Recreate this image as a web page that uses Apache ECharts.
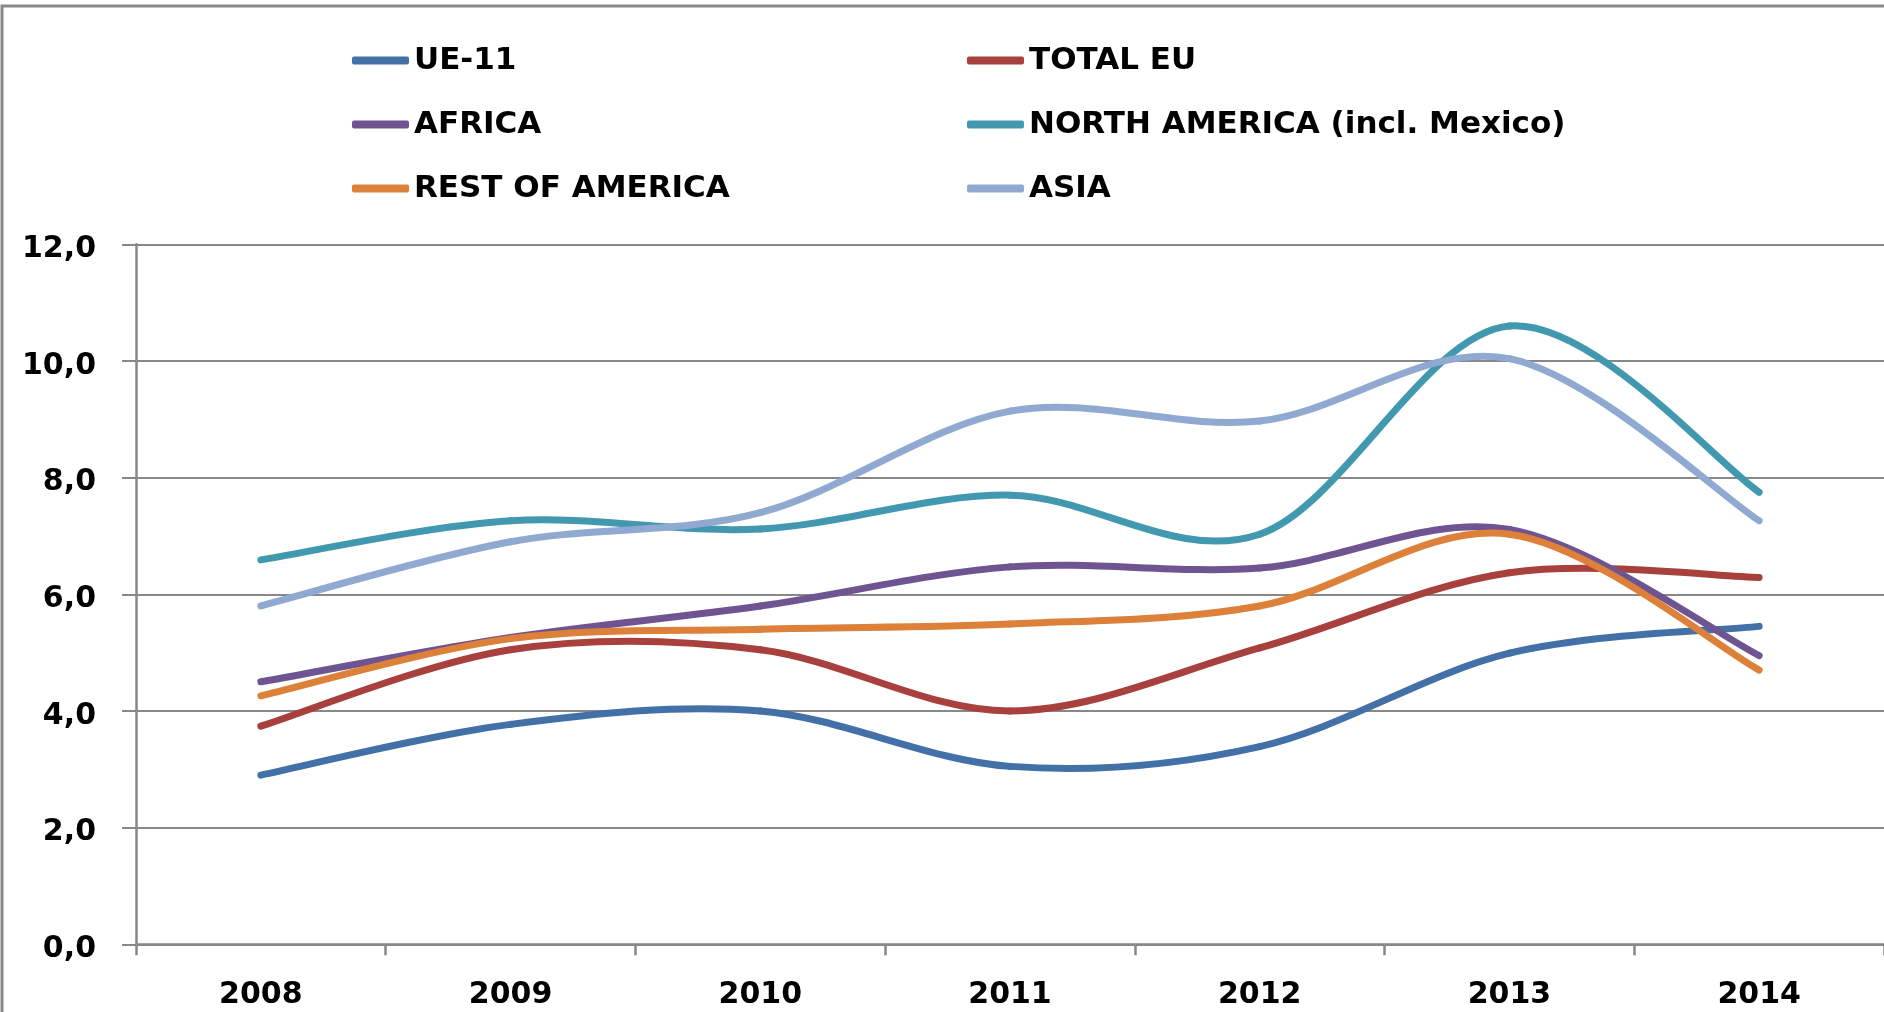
<!DOCTYPE html>
<html>
<head>
<meta charset="utf-8">
<script src="https://cdn.jsdelivr.net/npm/echarts@6/dist/echarts.min.js"></script>
<style>
html,body{margin:0;padding:0;background:#fff;}
#chart{width:1884px;height:1012px;}
</style>
</head>
<body>
<div id="chart"></div>
<script>
const years = ['2008','2009','2010','2011','2012','2013','2014'];
const ue11 = [2.90, 3.77, 4.00, 3.05, 3.39, 4.99, 5.45];
const totalEU = [3.74, 5.05, 5.05, 4.00, 5.08, 6.37, 6.29];
const africa = [4.50, 5.26, 5.80, 6.47, 6.45, 7.11, 4.95];
const northAmerica = [6.59, 7.26, 7.12, 7.70, 7.03, 10.60, 7.75];
const restOfAmerica = [4.26, 5.24, 5.40, 5.49, 5.80, 7.03, 4.70];
const asia = [5.80, 6.90, 7.40, 9.14, 8.97, 10.04, 7.26];
const yTicks = [0, 2, 4, 6, 8, 10, 12];

const names = ['UE-11','TOTAL EU','AFRICA','NORTH AMERICA (incl. Mexico)','REST OF AMERICA','ASIA'];
const colors = ['#4470A8','#A8403D','#6E5490','#4198AF','#DC803A','#8FA9D0'];
const datasets = [ue11, totalEU, africa, northAmerica, restOfAmerica, asia];

// Excel-like smoothed line: each segment is a cubic Bezier built from the data points
// converted to pixels by the chart's own axes (api.coord).
function makeRenderItem(si) {
  return function (params, api) {
    const d = datasets[si];
    const k = params.dataIndex;
    if (k >= d.length - 1) return null;
    const P = j => { const c = Math.max(0, Math.min(d.length - 1, j)); return api.coord([c, d[c]]); };
    const p0 = P(k - 1), p1 = P(k), p2 = P(k + 1), p3 = P(k + 2);
    const t = 1 / 6;
    return {
      type: 'bezierCurve',
      shape: {
        x1: p1[0], y1: p1[1], x2: p2[0], y2: p2[1],
        cpx1: p1[0] + (p2[0] - p0[0]) * t, cpy1: p1[1] + (p2[1] - p0[1]) * t,
        cpx2: p2[0] - (p3[0] - p1[0]) * t, cpy2: p2[1] - (p3[1] - p1[1]) * t
      },
      style: { stroke: colors[si], lineWidth: 7, fill: null, lineCap: 'round', lineJoin: 'round' }
    };
  };
}

const legendText = {fontFamily:'DejaVu Sans', fontWeight:'bold', fontSize:31, color:'#000', lineHeight:40};
const chart = echarts.init(document.getElementById('chart'), null, {renderer:'canvas'});
chart.setOption({
  animation:false,
  color: colors,
  graphic:[{
    type:'polyline', silent:true,
    shape:{points:[[2,1012],[2,6],[1884,6]]},
    style:{stroke:'#888', lineWidth:3, fill:null}
  }],
  legend:[{
    orient:'vertical', left:352, top:40.5, itemGap:24, padding:0,
    icon:'roundRect', itemWidth:57, itemHeight:8,
    textStyle:legendText,
    data:[names[0], names[2], names[4]]
  },{
    orient:'vertical', left:967, top:40.5, itemGap:24, padding:0,
    icon:'roundRect', itemWidth:57, itemHeight:8,
    textStyle:legendText,
    data:[names[1], names[3], names[5]]
  }],
  grid:{left:136, top:244.3, right:-2, bottom:67.7, containLabel:false},
  xAxis:{
    type:'category', data:years, boundaryGap:true,
    axisLine:{lineStyle:{color:'#888', width:2.5}},
    axisTick:{show:true, length:11, lineStyle:{color:'#888', width:2.5}},
    axisLabel:{margin:36, color:'#000', fontFamily:'DejaVu Sans', fontWeight:'bold', fontSize:30},
    splitLine:{show:false}
  },
  yAxis:{
    type:'value', min:0, max:12, interval:2,
    axisLine:{show:true, lineStyle:{color:'#888', width:2.5}},
    axisTick:{show:true, length:14, lineStyle:{color:'#888', width:2}},
    axisLabel:{margin:40, color:'#000', fontFamily:'DejaVu Sans', fontWeight:'bold', fontSize:30,
      verticalAlign:'top', lineHeight:10,
      formatter: v => yTicks.includes(v) ? v.toFixed(1).replace('.', ',') : ''},
    splitLine:{lineStyle:{color:'#888', width:2}}
  },
  series: datasets.map((d,i)=>({
    name:names[i], type:'custom', coordinateSystem:'cartesian2d',
    data:d.map((v,k)=>[k, v]),
    encode:{x:0, y:1},
    itemStyle:{color:colors[i]},
    renderItem: makeRenderItem(i),
    z:2+i
  }))
});
</script>
</body>
</html>
